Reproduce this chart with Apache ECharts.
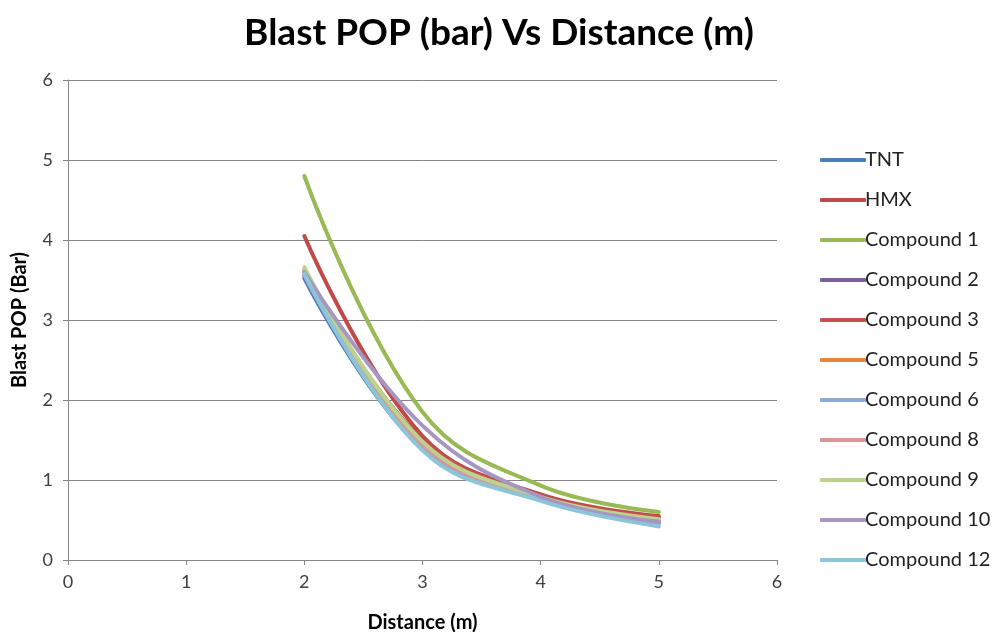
<!DOCTYPE html>
<html>
<head>
<meta charset="utf-8">
<script src="https://cdn.jsdelivr.net/npm/echarts@6/dist/echarts.min.js"></script>
<style>
  html, body { margin: 0; padding: 0; background: #fff; }
  #chart { width: 995px; height: 632px; }
</style>
</head>
<body>
<div id="chart"></div>
<script>
// Distance from charge (m)
const distances = [2, 3, 4, 5];

// Blast overpressure (bar) for each explosive
const tnt        = [3.52, 1.38, 0.75, 0.46];
const hmx        = [4.05, 1.55, 0.82, 0.55];
const compound1  = [4.80, 1.85, 0.93, 0.60];
const compound2  = [3.55, 1.41, 0.77, 0.47];
const compound3  = [3.60, 1.50, 0.80, 0.53];
const compound5  = [3.63, 1.45, 0.78, 0.49];
const compound6  = [3.56, 1.40, 0.76, 0.46];
const compound8  = [3.60, 1.44, 0.78, 0.49];
const compound9  = [3.66, 1.48, 0.79, 0.51];
const compound10 = [3.60, 1.68, 0.79, 0.48];
const compound12 = [3.58, 1.37, 0.74, 0.42];

const seriesDefs = [
  { name: 'TNT',         values: tnt,        color: '#4A7EBB' },
  { name: 'HMX',         values: hmx,        color: '#BE4B48' },
  { name: 'Compound 1',  values: compound1,  color: '#98B954' },
  { name: 'Compound 2',  values: compound2,  color: '#7D60A0' },
  { name: 'Compound 3',  values: compound3,  color: '#C9504F' },
  { name: 'Compound 5',  values: compound5,  color: '#E8843C' },
  { name: 'Compound 6',  values: compound6,  color: '#8EA9D6' },
  { name: 'Compound 8',  values: compound8,  color: '#D99694' },
  { name: 'Compound 9',  values: compound9,  color: '#BCD390' },
  { name: 'Compound 10', values: compound10, color: '#A795C2' },
  { name: 'Compound 12', values: compound12, color: '#8CC4D8' }
];

const xTicks = [0, 1, 2, 3, 4, 5, 6];
const yTicks = [0, 1, 2, 3, 4, 5, 6];

const FONT = 'Lato, "Open Sans", "Liberation Sans", sans-serif';

const chart = echarts.init(document.getElementById('chart'), null, { renderer: 'canvas' });

chart.setOption({
  animation: false,
  backgroundColor: '#ffffff',
  title: {
    text: 'Blast POP (bar) Vs Distance (m)',
    left: 494,
    top: 10,
    textAlign: 'center',
    textStyle: { fontFamily: FONT, fontSize: 37, fontWeight: 'bold', color: '#000' }
  },
  grid: {
    left: 68, right: 218, top: 80, bottom: 72,
    containLabel: false,
    outerBoundsMode: 'none'
  },
  legend: {
    orient: 'vertical',
    left: 815,
    top: 145,
    itemWidth: 46,
    itemHeight: 4,
    itemGap: 20,
    icon: 'roundRect',
    textStyle: { fontFamily: FONT, fontSize: 20, color: '#222', padding: [0, 0, 0, -6] },
    data: seriesDefs.map(s => s.name)
  },
  xAxis: {
    type: 'value',
    min: xTicks[0],
    max: xTicks[xTicks.length - 1],
    interval: 1,
    name: 'Distance (m)',
    nameLocation: 'middle',
    nameGap: 53,
    nameTextStyle: { fontFamily: FONT, fontSize: 20, fontWeight: 'bold', color: '#000' },
    axisLine: { show: true, lineStyle: { color: '#868686', width: 1 } },
    axisTick: { show: true, length: 5, lineStyle: { color: '#868686' } },
    axisLabel: { fontFamily: FONT, fontSize: 18, color: '#404040', margin: 13 },
    splitLine: { show: false }
  },
  yAxis: {
    type: 'value',
    min: yTicks[0],
    max: yTicks[yTicks.length - 1],
    interval: 1,
    name: 'Blast POP (Bar)',
    nameLocation: 'middle',
    nameGap: 38,
    nameRotate: 90,
    nameTextStyle: { fontFamily: FONT, fontSize: 20, fontWeight: 'bold', color: '#000' },
    axisLine: { show: true, lineStyle: { color: '#868686', width: 1 } },
    axisTick: { show: true, length: 5, lineStyle: { color: '#868686' } },
    axisLabel: { fontFamily: FONT, fontSize: 18, color: '#404040', margin: 15 },
    splitLine: { show: true, lineStyle: { color: '#868686', width: 1 } }
  },
  series: seriesDefs.map(s => ({
    name: s.name,
    type: 'line',
    smooth: 0.4,
    symbol: 'none',
    data: distances.map((d, i) => [d, s.values[i]]),
    lineStyle: { width: 4, color: s.color, cap: 'round' },
    itemStyle: { color: s.color }
  }))
});
</script>
</body>
</html>
